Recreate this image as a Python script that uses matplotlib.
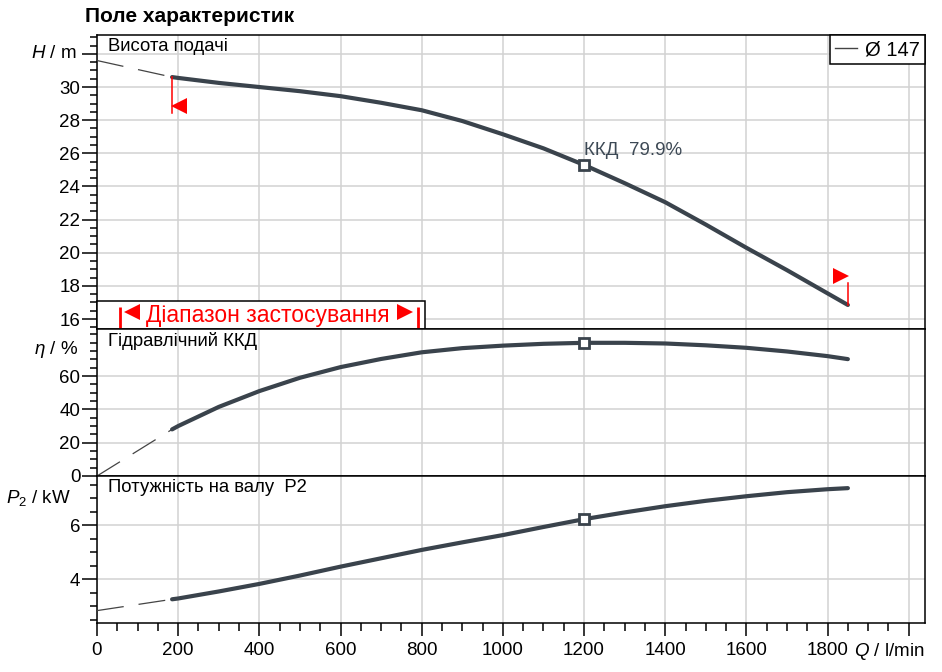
import numpy as np
import matplotlib
matplotlib.use("Agg")
import matplotlib.pyplot as plt
from matplotlib.lines import Line2D

plt.rcParams['font.family'] = ['Liberation Sans', 'DejaVu Sans']
plt.rcParams['mathtext.fontset'] = 'custom'
plt.rcParams['mathtext.rm'] = 'Liberation Sans'
plt.rcParams['mathtext.it'] = 'Liberation Sans:italic'

# operating curve, Q in l/min
q = [185, 200, 300, 400, 500, 600, 700, 800, 900, 1000, 1100, 1200,
     1300, 1400, 1500, 1600, 1700, 1800, 1850]
head = [30.6, 30.55, 30.25, 30.0, 29.75, 29.45, 29.05, 28.6, 27.95, 27.15,
        26.3, 25.3, 24.2, 23.05, 21.7, 20.3, 18.95, 17.55, 16.85]
eta = [28.0, 30.0, 41.5, 51.0, 59.0, 65.4, 70.3, 74.3, 76.8, 78.3, 79.4,
       80.0, 80.0, 79.6, 78.5, 77.0, 74.8, 72.0, 70.2]
power = [3.26, 3.29, 3.55, 3.83, 4.14, 4.47, 4.78, 5.09, 5.37, 5.64, 5.94,
         6.23, 6.48, 6.71, 6.91, 7.08, 7.23, 7.34, 7.38]

# dashed extension to Q = 0
q_ext = [0, 185]
head_ext = [31.6, 30.6]
eta_ext = [0.0, 28.0]
power_ext = [2.84, 3.26]

q_bep = 1200
head_bep = 25.3
eta_bep = 80.0
power_bep = 6.23
bep_label = "ККД  79.9%"

q_range = [56, 792]     # bars in the range box
diameter = "Ø 147"

x_ticks = list(range(0, 2001, 200))
x_labels = [str(v) for v in x_ticks[:-1]] + [""]

CURVE = "#3a434c"
GRID = "#d2d2d2"

fig = plt.figure(figsize=(9.42, 6.72), dpi=100)
L, W = 97 / 942, (925 - 97) / 942
ax_h = fig.add_axes([L, 1 - 329 / 672, W, (329 - 35) / 672])
ax_e = fig.add_axes([L, 1 - 476 / 672, W, (476 - 329) / 672])
ax_p = fig.add_axes([L, 1 - 623.3 / 672, W, (623.3 - 476) / 672])

for ax in (ax_h, ax_e, ax_p):
    ax.set_xlim(0, 2040)
    ax.set_xticks(x_ticks)
    ax.grid(True, which='major', color=GRID, lw=1.1)
    ax.set_axisbelow(True)
    for s in ax.spines.values():
        s.set_color('black')
        s.set_linewidth(1.1)
    ax.tick_params(axis='y', which='major', length=11, width=1.1, pad=1,
                   labelsize=13.5, direction='out')
    ax.tick_params(axis='y', which='minor', length=5.3, width=1.1, direction='out')

for ax in (ax_h, ax_e):
    ax.tick_params(axis='x', which='both', length=0, labelbottom=False)

ax_p.set_xticks(np.arange(0, 2040, 50), minor=True)
ax_p.set_xticklabels(x_labels)
ax_p.tick_params(axis='x', which='major', length=9.6, width=1.1, pad=4,
                 labelsize=13.5)
ax_p.tick_params(axis='x', which='minor', length=5.5, width=1.1)

# head panel
ax_h.set_ylim(15.4, 33.14)
ax_h.set_yticks(list(range(16, 33, 2)))
ax_h.set_yticklabels([str(v) for v in range(16, 31, 2)] + [""])
ax_h.set_yticks(np.arange(15.5, 33.1, 0.5), minor=True)

# efficiency panel
ax_e.set_ylim(0, 88.3)
ax_e.set_yticks([0, 20, 40, 60])
ax_e.set_yticks(np.arange(0, 88, 5), minor=True)

# power panel
ax_p.set_ylim(2.37, 7.83)
ax_p.set_yticks([4, 6])
ax_p.set_yticks(np.arange(2.5, 7.8, 0.5), minor=True)

dash = (0, (21.6, 12))
for ax, xs, ys, xe, ye, yb in ((ax_h, q, head, q_ext, head_ext, head_bep),
                              (ax_e, q, eta, q_ext, eta_ext, eta_bep),
                              (ax_p, q, power, q_ext, power_ext, power_bep)):
    ax.plot(xe, ye, color='#444444', lw=0.9, linestyle=dash, zorder=3)
    ax.plot(xs, ys, color=CURVE, lw=3.0, solid_capstyle='round',
            solid_joinstyle='round', zorder=4)
    ax.plot([q_bep], [yb], marker='s', ms=7.5, mfc='white', mec=CURVE,
            mew=2.0, zorder=5)

ax_h.text(q_bep, head_bep + 0.35, bep_label, fontsize=13.5, color='#3d4955',
          ha='left', va='bottom', zorder=6)

# red limits of the operating range
ax_h.plot([q[0], q[0]], [head[0], 28.45], color='red', lw=1.1, zorder=5)
ax_h.plot([q[0] + 18], [28.88], marker='<', ms=11, color='red', mew=0, zorder=5)
ax_h.plot([q[-1], q[-1]], [head[-1], 18.17], color='red', lw=1.1, zorder=5)
ax_h.plot([q[-1] - 18], [18.59], marker='>', ms=11, color='red', mew=0, zorder=5)

# range box
box = plt.Rectangle((0, 15.4), 807, 17.09 - 15.4, facecolor='white',
                    edgecolor='black', lw=1.1, zorder=6, clip_on=False)
ax_h.add_patch(box)
for qr in q_range:
    ax_h.plot([qr, qr], [15.47, 16.7], color='red', lw=2, zorder=7,
              solid_capstyle='butt')
ax_h.plot([q_range[0] + 30], [16.42], marker='<', ms=11, color='red',
          mew=0, zorder=7)
ax_h.plot([q_range[1] - 33], [16.42], marker='>', ms=11, color='red',
          mew=0, zorder=7)
ax_h.text(420, 16.2, "Діапазон застосування",
          color='red', fontsize=16.5, ha='center', va='center', zorder=7)

leg = ax_h.legend([Line2D([], [], color='#444444', lw=1)], [diameter],
                  loc='upper right', borderaxespad=0, fancybox=False,
                  framealpha=1, edgecolor='black', fontsize=14.5,
                  handlelength=1.1, handletextpad=0.4, borderpad=0.25)
leg.get_frame().set_linewidth(1.1)
leg.set_zorder(8)

# panel names
for ax, name in ((ax_h, "Висота подачі"), (ax_e, "Гідравлічний ККД"),
                 (ax_p, "Потужність на валу  P2")):
    ax.annotate(name, xy=(0, 1), xycoords='axes fraction',
                xytext=(8, -8.6), textcoords='offset points',
                fontsize=13.3, ha='left', va='center', zorder=7)

# axis names in place of tick labels
for ax, val, txt, off in ((ax_h, 32, "$H$ / m", -14.4),
                          (ax_e, 76, r"$\eta$ / %", -14),
                          (ax_p, 7.0, "$P_2$ / kW", -19)):
    ax.annotate(txt, xy=(0, val), xycoords=ax.get_yaxis_transform(),
                xytext=(off, 0), textcoords='offset points',
                fontsize=13.5, ha='right', va='center')

ax_p.annotate("$Q$ / l/min", xy=(1, 0), xycoords='axes fraction',
              xytext=(0, -20.4), textcoords='offset points',
              fontsize=13.5, ha='right', va='center')

fig.text(85 / 942, 1 - 17 / 672, "Поле характеристик", fontsize=15,
         fontweight='bold', ha='left', va='center')

fig.savefig("out.png", dpi=100)
